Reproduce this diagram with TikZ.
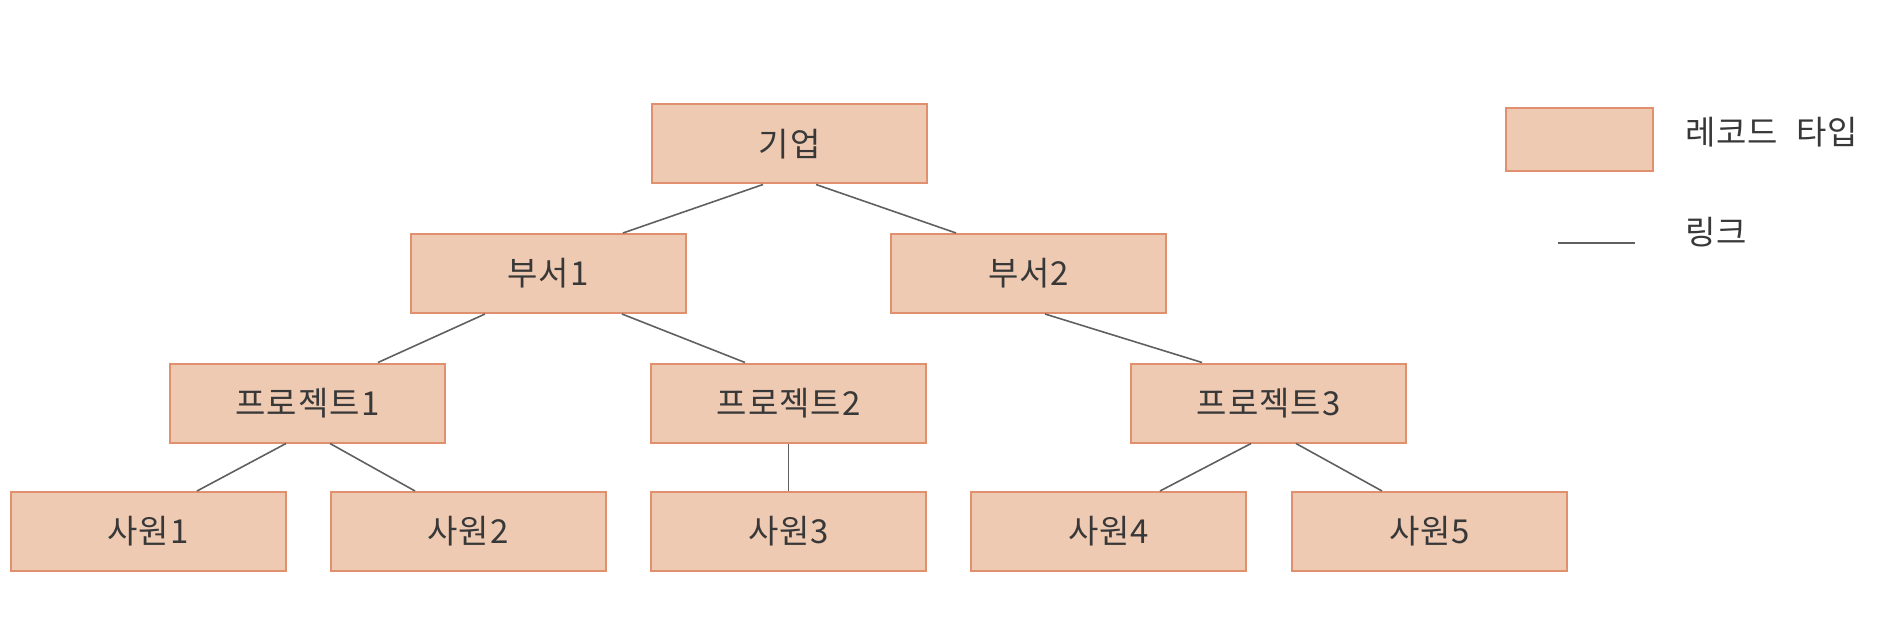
\documentclass[tikz,border=0pt]{standalone}
\usepackage{fontspec}
\setmainfont{Noto Sans CJK KR}[LetterSpace=3]
\usetikzlibrary{calc}
\definecolor{boxfill}{HTML}{EFCAB3}
\definecolor{boxline}{HTML}{E0906F}
\definecolor{txt}{HTML}{383838}
\definecolor{linkc}{HTML}{606060}
\begin{document}
\begin{tikzpicture}[x=1pt,y=-1pt,
  rec/.style={draw=boxline, fill=boxfill, line width=2pt, minimum width=275pt, minimum height=79pt, inner sep=0pt, text=txt, font=\fontsize{33}{38}\selectfont},
  lnk/.style={draw=linkc, line width=1.6pt},
  lbl/.style={text=txt, anchor=west, inner sep=0pt, font=\fontsize{33}{38}\selectfont}]
\useasboundingbox (0,0) rectangle (1886,620);
\node[rec] (giup) at (789.5,144) {기업};
\node[rec] (bu1) at (548,273.5) {부서1};
\node[rec] (bu2) at (1028.5,273.5) {부서2};
\node[rec] (pj1) at (307.5,403) {프로젝트1};
\node[rec] (pj2) at (788.5,403) {프로젝트2};
\node[rec] (pj3) at (1268.5,403) {프로젝트3};
\node[rec] (sw1) at (148,531.5) {사원1};
\node[rec] (sw2) at (468,531.5) {사원2};
\node[rec] (sw3) at (788.5,531.5) {사원3};
\node[rec] (sw4) at (1108.5,531.5) {사원4};
\node[rec] (sw5) at (1429.5,531.5) {사원5};
\draw[lnk] ($(giup.south)+(-26.5,0)$) -- ($(bu1.north)+(75,0)$);
\draw[lnk] ($(giup.south)+(26.5,0)$) -- ($(bu2.north)+(-72.5,0)$);
\draw[lnk] ($(bu1.south)+(-63,0)$) -- ($(pj1.north)+(70.5,0)$);
\draw[lnk] ($(bu1.south)+(74,0)$) -- ($(pj2.north)+(-43.5,0)$);
\draw[lnk] ($(bu2.south)+(16.5,0)$) -- ($(pj3.north)+(-66.5,0)$);
\draw[lnk] ($(pj1.south)+(-21.5,0)$) -- ($(sw1.north)+(49,0)$);
\draw[lnk] ($(pj1.south)+(22.5,0)$) -- ($(sw2.north)+(-53,0)$);
\draw[lnk] (pj2.south) -- (sw3.north);
\draw[lnk] ($(pj3.south)+(-17.5,0)$) -- ($(sw4.north)+(51.5,0)$);
\draw[lnk] ($(pj3.south)+(27.5,0)$) -- ($(sw5.north)+(-47.5,0)$);
% legend
\node[rec, minimum width=147pt, minimum height=63pt] (legbox) at (1579.5,139.5) {};
\node[lbl] (legrec) at (1685,132) {레코드\hspace{0.55em}타입};
\coordinate (la) at (1558,243);
\coordinate (lb) at (1635,243);
\draw[lnk] (la) -- (lb);
\node[lbl] (leglink) at (1685,232) {링크};
\end{tikzpicture}
\end{document}
